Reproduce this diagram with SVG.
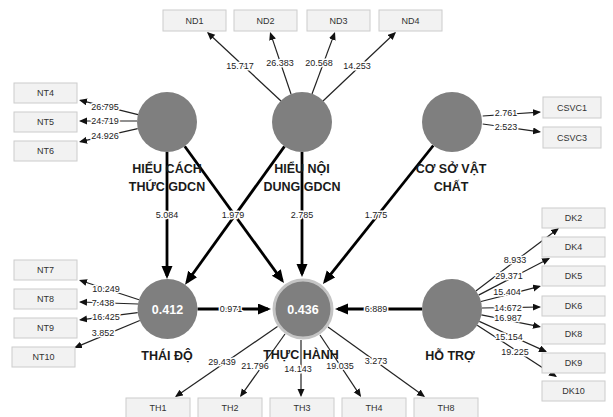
<svg xmlns="http://www.w3.org/2000/svg" width="613" height="417" viewBox="0 0 613 417">
<style>
.bg{fill:#fff}
.lv{fill:#7f7f7f}
.lv2{fill:#7f7f7f;stroke:#c4c4c4;stroke-width:3}
.box{fill:#f2f2f2;stroke:#cccccc;stroke-width:1}
.bt{font-family:"Liberation Sans",Arial,sans-serif;font-size:9px;fill:#333;text-anchor:middle}
.nm{font-family:"Liberation Sans",Arial,sans-serif;font-size:12.5px;font-weight:bold;fill:#1a1a1a;text-anchor:middle}
.r2{font-family:"Liberation Sans",Arial,sans-serif;font-size:12.5px;font-weight:bold;fill:#fff;text-anchor:middle}
.ol{stroke:#222;stroke-width:1.2;fill:none;marker-end:url(#sa)}
.sl{stroke:#000;stroke-width:2.8;fill:none;marker-end:url(#ba)}
.lb{font-family:"Liberation Sans",Arial,sans-serif;font-size:9px;fill:#222;text-anchor:middle;stroke:#fff;stroke-width:3;paint-order:stroke;stroke-linejoin:round}
</style>
<defs>
<marker id="ba" markerUnits="userSpaceOnUse" markerWidth="14" markerHeight="12" refX="10" refY="5.5" orient="auto"><path d="M0,0 L13,5.5 L0,11 z" fill="#000"/></marker>
<marker id="sa" markerUnits="userSpaceOnUse" markerWidth="9" markerHeight="8" refX="6.5" refY="3.5" orient="auto"><path d="M0,0 L8,3.5 L0,7 z" fill="#111"/></marker>
</defs>
<rect class="bg" x="0" y="0" width="613" height="417"/>
<g id="connectors">
<line class="sl" x1="167" y1="152" x2="167" y2="276"/>
<line class="sl" x1="184.7" y1="146.3" x2="282.2" y2="280.6"/>
<line class="sl" x1="284.5" y1="146.4" x2="186.8" y2="282.2"/>
<line class="sl" x1="302" y1="152" x2="302" y2="274"/>
<line class="sl" x1="433.3" y1="145.5" x2="324.8" y2="281.7"/>
<line class="sl" x1="197.5" y1="309" x2="268" y2="309"/>
<line class="sl" x1="422" y1="309" x2="338" y2="309"/>
<line class="ol" x1="281" y1="101" x2="208.1" y2="33"/>
<line class="ol" x1="291" y1="94" x2="270.5" y2="33.4"/>
<line class="ol" x1="312" y1="94" x2="334.5" y2="33.4"/>
<line class="ol" x1="323" y1="101" x2="394.9" y2="33"/>
<line class="ol" x1="138" y1="114.7" x2="80.5" y2="100.4"/>
<line class="ol" x1="137" y1="121" x2="80.5" y2="121"/>
<line class="ol" x1="137.7" y1="128.7" x2="80.5" y2="141.7"/>
<line class="ol" x1="139" y1="299.7" x2="80.4" y2="280.5"/>
<line class="ol" x1="138" y1="304" x2="80.5" y2="302"/>
<line class="ol" x1="137.7" y1="312.7" x2="80.5" y2="319.8"/>
<line class="ol" x1="139.8" y1="320.5" x2="75.4" y2="347.4"/>
<line class="ol" x1="482.7" y1="116" x2="539.5" y2="112.1"/>
<line class="ol" x1="482.7" y1="124" x2="539.5" y2="131.8"/>
<line class="ol" x1="475.9" y1="290.9" x2="557.8" y2="228.9"/>
<line class="ol" x1="478.6" y1="295.1" x2="548.7" y2="258.7"/>
<line class="ol" x1="481" y1="301.5" x2="539.5" y2="286.4"/>
<line class="ol" x1="482" y1="308" x2="539.5" y2="307"/>
<line class="ol" x1="481.4" y1="314.9" x2="539.5" y2="326.7"/>
<line class="ol" x1="479.3" y1="321.4" x2="545.6" y2="351.4"/>
<line class="ol" x1="477.2" y1="325.3" x2="555.7" y2="376.2"/>
<line class="ol" x1="277.5" y1="326.5" x2="176.2" y2="396.2"/>
<line class="ol" x1="285" y1="334" x2="240.9" y2="395.8"/>
<line class="ol" x1="301" y1="340" x2="301" y2="395.5"/>
<line class="ol" x1="320" y1="335" x2="360.2" y2="395.7"/>
<line class="ol" x1="328" y1="327" x2="423.8" y2="396.1"/>
<text class="lb" x="167" y="218">5.084</text>
<text class="lb" x="233" y="218">1.979</text>
<text class="lb" x="302" y="218">2.785</text>
<text class="lb" x="376" y="218">1.775</text>
<text class="lb" x="231" y="312">0.971</text>
<text class="lb" x="376" y="312">6.889</text>
<text class="lb" x="240" y="69">15.717</text>
<text class="lb" x="280" y="66">26.383</text>
<text class="lb" x="319" y="66">20.568</text>
<text class="lb" x="357" y="69">14.253</text>
<text class="lb" x="105" y="110">26.795</text>
<text class="lb" x="105" y="124">24.719</text>
<text class="lb" x="105" y="139">24.926</text>
<text class="lb" x="106" y="292">10.249</text>
<text class="lb" x="103" y="306">7.438</text>
<text class="lb" x="106" y="320">16.425</text>
<text class="lb" x="103" y="336">3.852</text>
<text class="lb" x="506" y="116">2.761</text>
<text class="lb" x="506" y="130">2.523</text>
<text class="lb" x="515" y="263">8.933</text>
<text class="lb" x="509" y="279">29.371</text>
<text class="lb" x="507" y="295">15.404</text>
<text class="lb" x="508" y="311">14.672</text>
<text class="lb" x="508" y="321">16.987</text>
<text class="lb" x="509" y="340">15.154</text>
<text class="lb" x="515" y="355">19.225</text>
<text class="lb" x="222" y="365">29.439</text>
<text class="lb" x="255" y="369">21.796</text>
<text class="lb" x="298" y="372">14.143</text>
<text class="lb" x="340" y="369">19.035</text>
<text class="lb" x="376" y="364">3.273</text>
</g>
<g id="hieu-cach-thuc-gdcn">
<circle class="lv" cx="167" cy="122" r="30"/>
<text class="nm" x="167" y="173">HIỂU CÁCH</text>
<text class="nm" x="167" y="191">THỨC GDCN</text>
</g>
<g id="hieu-noi-dung-gdcn">
<circle class="lv" cx="302" cy="122" r="30"/>
<text class="nm" x="302" y="173">HIỂU NỘI</text>
<text class="nm" x="302" y="191">DUNG GDCN</text>
</g>
<g id="co-so-vat-chat">
<circle class="lv" cx="452" cy="122" r="30"/>
<text class="nm" x="451" y="173">CƠ SỞ VẬT</text>
<text class="nm" x="451" y="191">CHẤT</text>
</g>
<g id="thai-do">
<circle class="lv" cx="167.5" cy="309" r="30"/>
<text class="r2" x="167.5" y="313.5">0.412</text>
<text class="nm" x="167" y="360">THÁI ĐỘ</text>
</g>
<g id="thuc-hanh">
<circle class="lv2" cx="303" cy="309" r="29"/>
<text class="r2" x="303" y="313.5">0.436</text>
<text class="nm" x="301" y="359">THỰC HÀNH</text>
</g>
<g id="ho-tro">
<circle class="lv" cx="452" cy="309" r="30"/>
<text class="nm" x="450" y="360">HỖ TRỢ</text>
</g>
<g id="ND1"><rect class="box" x="163" y="10" width="63" height="21"/><text class="bt" x="194.5" y="23.7">ND1</text></g>
<g id="ND2"><rect class="box" x="234" y="10" width="63" height="21"/><text class="bt" x="265.5" y="23.7">ND2</text></g>
<g id="ND3"><rect class="box" x="307" y="10" width="63" height="21"/><text class="bt" x="338.5" y="23.7">ND3</text></g>
<g id="ND4"><rect class="box" x="379" y="10" width="63" height="21"/><text class="bt" x="410.5" y="23.7">ND4</text></g>
<g id="NT4"><rect class="box" x="14" y="83" width="63" height="20"/><text class="bt" x="45.5" y="96.3">NT4</text></g>
<g id="NT5"><rect class="box" x="14" y="112" width="63" height="20"/><text class="bt" x="45.5" y="125.3">NT5</text></g>
<g id="NT6"><rect class="box" x="14" y="141" width="63" height="20"/><text class="bt" x="45.5" y="154.3">NT6</text></g>
<g id="NT7"><rect class="box" x="14" y="260" width="63" height="20"/><text class="bt" x="45.5" y="273.3">NT7</text></g>
<g id="NT8"><rect class="box" x="14" y="289" width="63" height="20"/><text class="bt" x="45.5" y="302.3">NT8</text></g>
<g id="NT9"><rect class="box" x="14" y="318" width="63" height="20"/><text class="bt" x="45.5" y="331.3">NT9</text></g>
<g id="NT10"><rect class="box" x="12" y="347" width="63" height="20"/><text class="bt" x="43.5" y="360.3">NT10</text></g>
<g id="CSVC1"><rect class="box" x="543" y="97" width="58" height="21"/><text class="bt" x="572" y="110.7">CSVC1</text></g>
<g id="CSVC3"><rect class="box" x="543" y="127" width="58" height="21"/><text class="bt" x="572" y="140.7">CSVC3</text></g>
<g id="DK2"><rect class="box" x="542" y="208" width="63" height="20"/><text class="bt" x="573.5" y="221.3">DK2</text></g>
<g id="DK4"><rect class="box" x="542" y="237" width="63" height="20"/><text class="bt" x="573.5" y="250.3">DK4</text></g>
<g id="DK5"><rect class="box" x="542" y="266" width="63" height="20"/><text class="bt" x="573.5" y="279.3">DK5</text></g>
<g id="DK6"><rect class="box" x="542" y="296" width="63" height="20"/><text class="bt" x="573.5" y="309.3">DK6</text></g>
<g id="DK8"><rect class="box" x="542" y="324" width="63" height="20"/><text class="bt" x="573.5" y="337.3">DK8</text></g>
<g id="DK9"><rect class="box" x="542" y="353" width="63" height="20"/><text class="bt" x="573.5" y="366.3">DK9</text></g>
<g id="DK10"><rect class="box" x="542" y="381" width="63" height="20"/><text class="bt" x="573.5" y="394.3">DK10</text></g>
<g id="TH1"><rect class="box" x="126" y="398" width="64" height="20"/><text class="bt" x="158" y="411">TH1</text></g>
<g id="TH2"><rect class="box" x="198" y="398" width="64" height="20"/><text class="bt" x="230" y="411">TH2</text></g>
<g id="TH3"><rect class="box" x="270" y="398" width="64" height="20"/><text class="bt" x="302" y="411">TH3</text></g>
<g id="TH4"><rect class="box" x="342" y="398" width="64" height="20"/><text class="bt" x="374" y="411">TH4</text></g>
<g id="TH8"><rect class="box" x="414" y="398" width="64" height="20"/><text class="bt" x="446" y="411">TH8</text></g>
</svg>
